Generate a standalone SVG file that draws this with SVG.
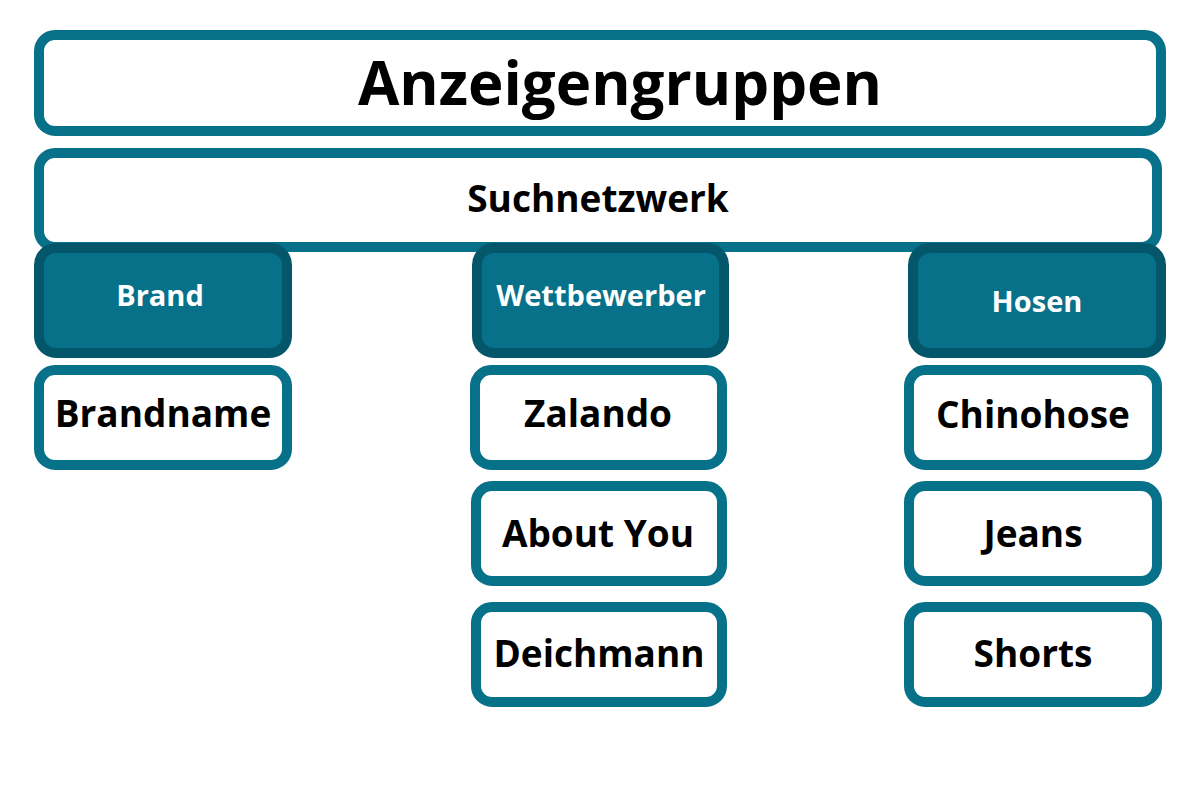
<svg xmlns="http://www.w3.org/2000/svg" width="1200" height="800" viewBox="0 0 1200 800">
<style>
.box{fill:#ffffff;stroke:#07718a;stroke-width:10}
.hdr{fill:#07718a;stroke:#04566b;stroke-width:10}
text{font-family:"Open Sans","DejaVu Sans",sans-serif;font-weight:700;text-anchor:middle}
.dark{fill:#000000}
.light{fill:#ffffff}
.item{font-size:37px}
.head{font-size:29px}
</style>
<rect width="1200" height="800" fill="#ffffff"/>
<g id="connectors"></g>
<g id="anzeigengruppen">
<rect class="box" x="39" y="35" width="1122" height="96" rx="16"/>
<text class="dark" x="620" y="105" font-size="60">Anzeigengruppen</text>
</g>
<g id="suchnetzwerk">
<rect class="box" x="39" y="153" width="1118" height="94" rx="16"/>
<text class="dark" x="598" y="212" font-size="37">Suchnetzwerk</text>
</g>
<g id="brand">
<rect class="hdr" x="39" y="248" width="248" height="105" rx="17"/>
<text class="light head" x="160" y="306">Brand</text>
</g>
<g id="wettbewerber">
<rect class="hdr" x="477" y="248" width="247" height="105" rx="17"/>
<text class="light head" x="601" y="306">Wettbewerber</text>
</g>
<g id="hosen">
<rect class="hdr" x="913" y="248" width="248" height="105" rx="17"/>
<text class="light head" x="1037" y="312">Hosen</text>
</g>
<g id="brandname">
<rect class="box" x="39" y="370" width="248" height="95" rx="16"/>
<text class="dark item" x="163" y="427">Brandname</text>
</g>
<g id="zalando">
<rect class="box" x="475" y="370" width="247" height="95" rx="16"/>
<text class="dark item" x="598" y="427">Zalando</text>
</g>
<g id="aboutyou">
<rect class="box" x="476" y="486" width="246" height="95" rx="16"/>
<text class="dark item" x="598" y="547">About You</text>
</g>
<g id="deichmann">
<rect class="box" x="476" y="607" width="246" height="95" rx="16"/>
<text class="dark item" x="599" y="667">Deichmann</text>
</g>
<g id="chinohose">
<rect class="box" x="909" y="370" width="248" height="95" rx="16"/>
<text class="dark item" x="1033" y="428">Chinohose</text>
</g>
<g id="jeans">
<rect class="box" x="909" y="486" width="248" height="95" rx="16"/>
<text class="dark item" x="1033" y="547">Jeans</text>
</g>
<g id="shorts">
<rect class="box" x="909" y="607" width="248" height="95" rx="16"/>
<text class="dark item" x="1033" y="667">Shorts</text>
</g>
</svg>
